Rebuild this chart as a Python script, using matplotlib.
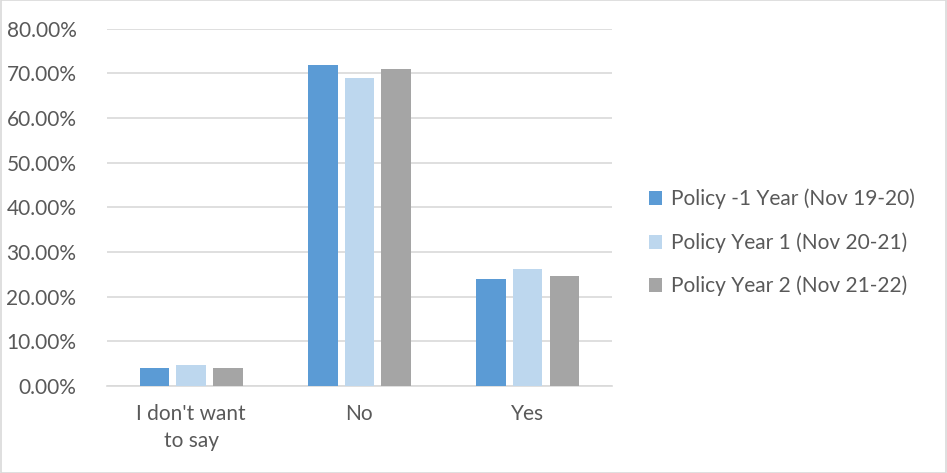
import numpy as np
import matplotlib
matplotlib.use("Agg")
import matplotlib.pyplot as plt
from matplotlib.patches import Rectangle

categories = ["I don't want\nto say", "No", "Yes"]
series_names = ["Policy -1 Year (Nov 19-20)",
                "Policy Year 1 (Nov 20-21)",
                "Policy Year 2 (Nov 21-22)"]
policy_m1 = [4.0, 71.8, 23.9]
policy_y1 = [4.7, 68.9, 26.2]
policy_y2 = [4.0, 71.1, 24.6]
colors = ["#5B9BD5", "#BDD7EE", "#A5A5A5"]

plt.rcParams['font.family'] = ['Lato', 'DejaVu Sans']
txt = "#595959"

fig = plt.figure(figsize=(9.47, 4.73), dpi=100)
ax = fig.add_axes([0.113, 0.184, 0.533, 0.755])

x = np.arange(len(categories))
w = 0.176
step = 0.218
for i, (vals, name) in enumerate(zip([policy_m1, policy_y1, policy_y2], series_names)):
    ax.bar(x + (i - 1) * step, vals, width=w, color=colors[i], label=name, zorder=3)

ax.set_xlim(-0.5, 2.5)
ax.set_ylim(0, 80)
ax.set_yticks(np.arange(0, 81, 10))
ax.set_yticklabels(["%.2f%%" % v for v in np.arange(0, 81, 10)])
ax.set_xticks(x)
ax.set_xticklabels(categories, linespacing=1.45)
ax.tick_params(length=0, labelsize=15, colors=txt)
ax.tick_params(axis='y', pad=22)
ax.tick_params(axis='x', pad=13)
ax.grid(axis='y', color="#D9D9D9", linewidth=1.2, zorder=0)
for s in ["top", "right", "left"]:
    ax.spines[s].set_visible(False)
ax.spines["bottom"].set_color("#D9D9D9")
ax.spines["bottom"].set_linewidth(1.2)

leg = ax.legend(loc="center left", bbox_to_anchor=(0.665, 0.487), bbox_transform=fig.transFigure,
                frameon=False, fontsize=15, handlelength=0.65, handleheight=0.65,
                handletextpad=0.45, labelspacing=1.1)
for t in leg.get_texts():
    t.set_color(txt)

fig.patches.append(Rectangle((0.001, 0.001), 0.998, 0.998, transform=fig.transFigure,
                             fill=False, edgecolor="#D9D9D9", linewidth=1.2))

fig.savefig("out.png", dpi=100)
